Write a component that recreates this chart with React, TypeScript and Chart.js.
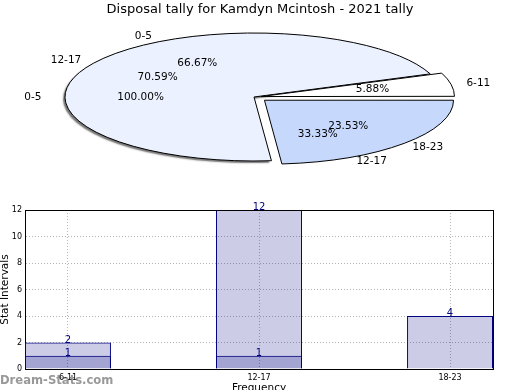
import React, { useEffect, useRef } from 'react';
import { Chart, registerables } from 'chart.js';

Chart.register(...registerables);

const TITLE = 'Disposal tally for Kamdyn Mcintosh - 2021 tally';

// Visible (top) pie
const pieCategories = ['6-11', '12-17', '18-23'];
const pieValues = [1, 12, 4];
const pieColors = ['#ffffff', '#ebf1fe', '#c6d9fd'];

// Pies lying underneath the visible one (only their labels show)
const pieALabels = ['0-5'];
const pieAValues = [1];
const pieBLabels = ['0-5', '12-17'];
const pieBValues = [2, 1];

// Bar chart
const barCategories = ['6-11', '12-17', '18-23'];
const barSeriesA = [2, 12, 4];
const barSeriesB: (number | null)[] = [1, 1, null];
const yTickMin = 0;
const yTickMax = 12;
const yTickStep = 2;

const FONT = 'DejaVu Sans';

// ellipse geometry (device px)
const CX = 254;
const CY = 97;
const RX = 189;
const RY = 64;
const INNER = 0.6;
const OUTER_X = 1.17;
const OUTER_Y = 1.09;
const EXPLODE_BIG = 48;
const EXPLODE_SMALL = 24;
const pieOffsets = [EXPLODE_SMALL, 0, EXPLODE_BIG];
const pieBOffsets = [0, EXPLODE_BIG];

const rev = <T,>(a: T[]): T[] => a.slice().reverse();

function drawSliceLabels(
  ctx: CanvasRenderingContext2D,
  slices: { mid: number; shift: number; pct: string; label: string }[],
  sx: number,
  sy: number
) {
  ctx.save();
  ctx.font = `10.5px "${FONT}"`;
  ctx.fillStyle = '#000';
  ctx.textAlign = 'center';
  ctx.textBaseline = 'middle';
  for (const s of slices) {
    const c = Math.cos(s.mid);
    const n = Math.sin(s.mid);
    const ox = CX + s.shift * sx * c;
    const oy = CY + s.shift * sy * n;
    ctx.fillText(s.pct, ox + INNER * RX * c, oy + INNER * RY * n);
    ctx.fillText(s.label, ox + OUTER_X * RX * c, oy + OUTER_Y * RY * n);
  }
  ctx.restore();
}

function hiddenSlices(labels: string[], values: number[], offsets: number[]) {
  const l = rev(labels);
  const v = rev(values);
  const o = rev(offsets);
  const total = v.reduce((a, b) => a + b, 0);
  let a = 0;
  return v.map((val, i) => {
    const span = (val / total) * Math.PI * 2;
    const mid = a + span / 2;
    a += span;
    return { mid, shift: o[i] / 4, pct: ((val / total) * 100).toFixed(2) + '%', label: l[i] };
  });
}

const ellipsePlugin = {
  id: 'ellipse3d',
  beforeDatasetsDraw(chart: any) {
    const ctx: CanvasRenderingContext2D = chart.ctx;
    const arc = chart.getDatasetMeta(0).data[0];
    const R = arc.outerRadius;
    const sx = RX / R;
    const sy = RY / R;
    chart.$ell = { sx, sy };
    ctx.save();
    ctx.translate(CX, CY);
    ctx.scale(sx, sy);
    ctx.translate(-arc.x, -arc.y);
    const dpr = chart.currentDevicePixelRatio || 1;
    const proto = CanvasRenderingContext2D.prototype;
    (ctx as any).stroke = function (...args: any[]) {
      this.save();
      this.setTransform(dpr, 0, 0, dpr, 0, 0);
      (proto.stroke as any).apply(this, args);
      this.restore();
    };
    (ctx as any).fill = function (...args: any[]) {
      const fs = String(this.fillStyle).toLowerCase();
      if (fs === pieColors[1]) {
        this.save();
        this.shadowColor = 'rgba(0,0,0,0.55)';
        this.shadowOffsetX = -2;
        this.shadowOffsetY = 2;
        this.shadowBlur = 1.5;
        (proto.fill as any).apply(this, args);
        this.restore();
      } else {
        (proto.fill as any).apply(this, args);
      }
    };
  },
  afterDatasetsDraw(chart: any) {
    const ctx: CanvasRenderingContext2D = chart.ctx;
    delete (ctx as any).stroke;
    delete (ctx as any).fill;
    ctx.restore();
    const { sx, sy } = chart.$ell;
    drawSliceLabels(ctx, hiddenSlices(pieALabels, pieAValues, [0]), sx, sy);
    drawSliceLabels(ctx, hiddenSlices(pieBLabels, pieBValues, pieBOffsets), sx, sy);
    const meta = chart.getDatasetMeta(0);
    const ds = chart.data.datasets[0].data as number[];
    const labels = chart.data.labels as string[];
    const total = ds.reduce((a, b) => a + b, 0);
    const visible = meta.data.map((el: any, i: number) => ({
      mid: (el.startAngle + el.endAngle) / 2,
      shift: (el.options.offset || 0) / 4,
      pct: ((ds[i] / total) * 100).toFixed(2) + '%',
      label: labels[i],
    }));
    drawSliceLabels(ctx, visible, sx, sy);
  },
};

const barPlugin = {
  id: 'barDecor',
  beforeDraw(chart: any) {
    const ctx: CanvasRenderingContext2D = chart.ctx;
    ctx.save();
    ctx.font = `bold 11.6px "${FONT}"`;
    ctx.fillStyle = 'rgba(128,128,128,0.8)';
    ctx.textAlign = 'left';
    ctx.textBaseline = 'alphabetic';
    ctx.fillText('Dream-Stats.com', 0, 384);
    ctx.restore();
  },
  afterDatasetsDraw(chart: any) {
    const ctx: CanvasRenderingContext2D = chart.ctx;
    ctx.save();
    ctx.font = `10px "${FONT}"`;
    ctx.fillStyle = '#000080';
    ctx.textAlign = 'center';
    ctx.textBaseline = 'alphabetic';
    chart.data.datasets.forEach((ds: any, di: number) => {
      const meta = chart.getDatasetMeta(di);
      meta.data.forEach((el: any, i: number) => {
        const v = ds.data[i].y;
        if (v === null || v === undefined) return;
        ctx.fillText(String(v), el.x, el.y);
      });
    });
    ctx.restore();
  },
  afterDraw(chart: any) {
    const { ctx, chartArea } = chart;
    ctx.save();
    ctx.strokeStyle = '#000';
    ctx.lineWidth = 1;
    ctx.beginPath();
    ctx.moveTo(chartArea.left, Math.round(chartArea.top) + 0.5);
    ctx.lineTo(chartArea.right + 0.5, Math.round(chartArea.top) + 0.5);
    ctx.moveTo(Math.round(chartArea.right) + 0.5, chartArea.top);
    ctx.lineTo(Math.round(chartArea.right) + 0.5, chartArea.bottom);
    ctx.stroke();
    ctx.restore();
  },
};

export default function App() {
  const pieRef = useRef<HTMLCanvasElement>(null);
  const barRef = useRef<HTMLCanvasElement>(null);

  useEffect(() => {
    const barDataset = (vals: (number | null)[]) =>
      ({
        data: barCategories.map((_, i) => ({ x: i, y: vals[i] })),
        backgroundColor: 'rgba(0,0,128,0.2)',
        borderColor: '#000080',
        borderWidth: 1,
        grouped: false,
        barPercentage: 0.45,
        categoryPercentage: 1,
      } as any);

    const barChart = new Chart(barRef.current!, {
      type: 'bar',
      data: {
        datasets: [barDataset(barSeriesA), barDataset(barSeriesB)],
      },
      options: {
        responsive: false,
        animation: false,
        layout: { padding: { top: 210, right: 27, left: 0, bottom: 0 } },
        plugins: { legend: { display: false }, tooltip: { enabled: false } },
        scales: {
          x: {
            type: 'linear',
            offset: false,
            min: -0.225,
            max: 2.225,
            afterBuildTicks: (s: any) => {
              s.ticks = barCategories.map((_, i) => ({ value: i }));
            },
            afterFit: (s: any) => {
              s.height = 21;
            },
            ticks: {
              callback: (v: any) => barCategories[v] ?? '',
              font: { family: FONT, size: 8 },
              color: '#000',
              padding: 4,
              maxRotation: 0,
              autoSkip: false,
            },
            grid: { color: '#b4b4b4', drawTicks: false, offset: false },
            border: { display: true, color: '#000', dash: [1, 2] },
            title: {
              display: true,
              text: 'Frequency',
              color: '#000',
              font: { family: FONT, size: 10.5, lineHeight: 1 },
              padding: { top: 0, bottom: -4 },
            },
          },
          y: {
            min: yTickMin,
            max: yTickMax,
            afterFit: (s: any) => {
              s.width = 25;
            },
            ticks: {
              stepSize: yTickStep,
              font: { family: FONT, size: 8 },
              color: '#000',
              padding: 3,
            },
            grid: { color: '#b4b4b4', drawTicks: false },
            border: { display: true, color: '#000', dash: [1, 2] },
            title: {
              display: true,
              text: 'Stat Intervals',
              color: '#000',
              font: { family: FONT, size: 10.5, lineHeight: 1 },
              padding: { top: 0, bottom: 0 },
            },
          },
        },
      } as any,
      plugins: [barPlugin],
    });

    const pieChart = new Chart(pieRef.current!, {
      type: 'pie',
      data: {
        labels: rev(pieCategories),
        datasets: [
          {
            data: rev(pieValues),
            backgroundColor: rev(pieColors),
            borderColor: '#000',
            borderWidth: 1,
            offset: rev(pieOffsets),
            hoverOffset: 0,
            clip: false,
          } as any,
        ],
      },
      options: {
        responsive: false,
        animation: false,
        rotation: 90,
        plugins: {
          legend: { display: false },
          tooltip: { enabled: false },
          title: {
            display: true,
            text: TITLE,
            color: '#000',
            font: { family: FONT, size: 13, weight: 'normal' },
            padding: { top: 2, bottom: 3 },
          },
        },
      } as any,
      plugins: [ellipsePlugin],
    });

    return () => {
      pieChart.destroy();
      barChart.destroy();
    };
  }, []);

  const cs: React.CSSProperties = { position: 'absolute', left: 0, top: 0, width: 520, height: 390 };
  return (
    <div style={{ position: 'absolute', left: 0, top: 0, width: 520, height: 390, background: '#fff' }}>
      <canvas ref={barRef} width={520} height={390} style={cs} />
      <canvas ref={pieRef} width={520} height={390} style={cs} />
    </div>
  );
}
